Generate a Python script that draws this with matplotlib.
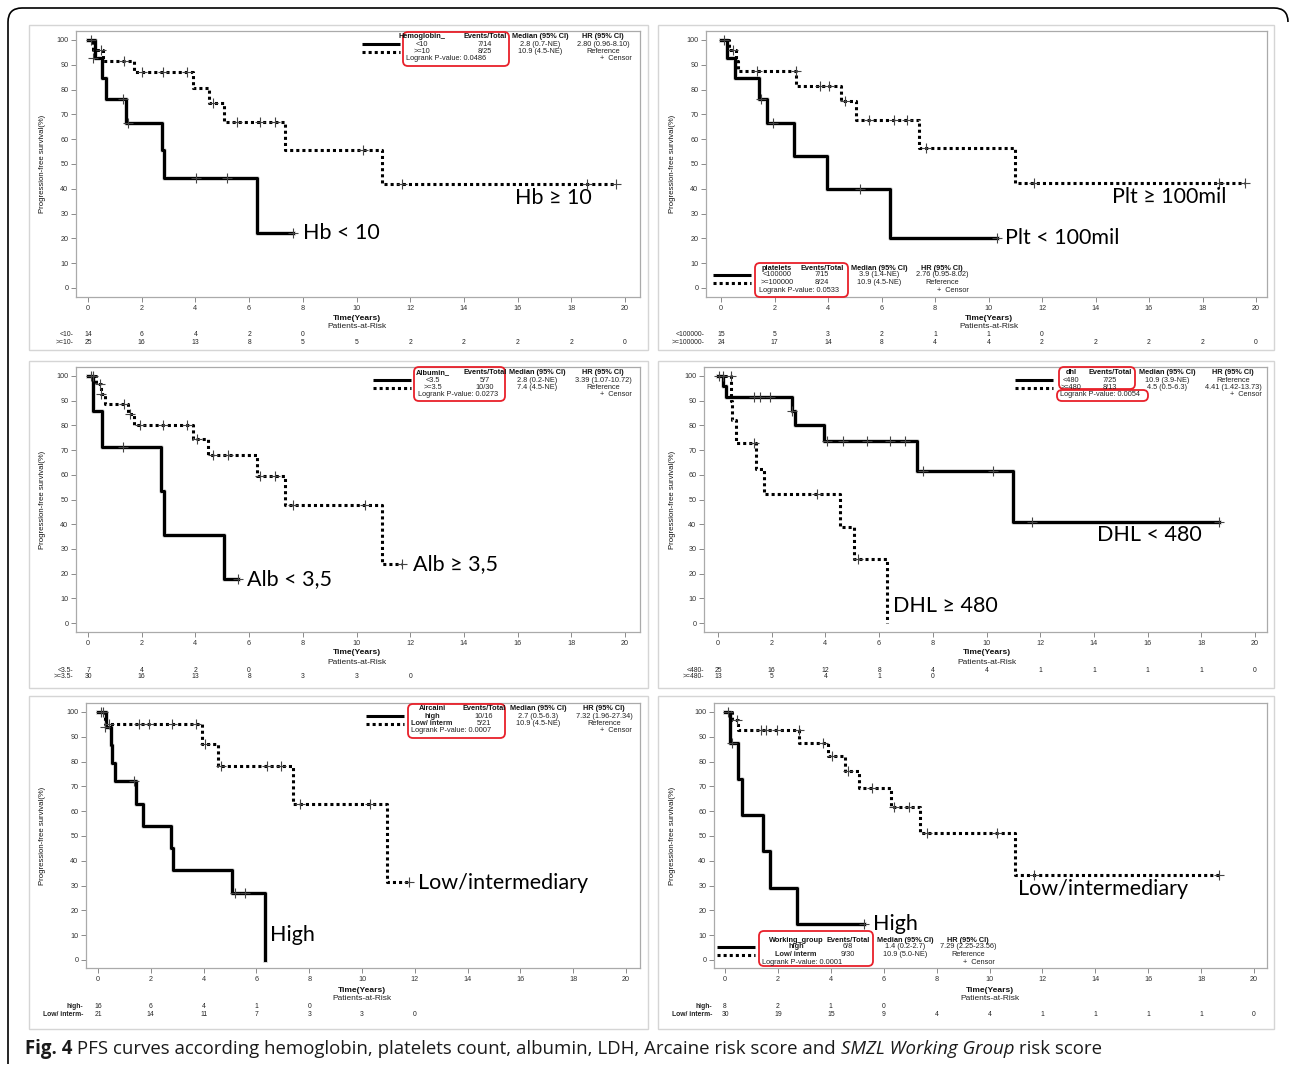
import matplotlib
matplotlib.use('Agg')
import matplotlib.pyplot as plt
from matplotlib.patches import FancyBboxPatch, Rectangle, PathPatch
from matplotlib.path import Path
from matplotlib.transforms import blended_transform_factory

# ---------------- DATA ----------------
years_at_risk = [0, 2, 4, 6, 8, 10, 12, 14, 16, 18, 20]

# Panel 1: hemoglobin
hb_lo_t = [0, 0.25, 0.52, 0.67, 1.42, 2.76, 2.84, 6.3, 7.64]
hb_lo_s = [100, 92.8, 84.6, 76.2, 66.5, 55.5, 44.4, 22.2, 22.2]
hb_lo_ct = [0.12, 1.31, 1.49, 4.04, 5.18, 7.64]
hb_lo_cs = [100, 76.2, 66.5, 44.4, 44.4, 22.2]
hb_hi_t = [0, 0.2, 0.55, 1.72, 3.9, 4.5, 5.05, 7.35, 10.95, 19.65]
hb_hi_s = [100, 96.0, 91.6, 87.0, 80.5, 74.6, 67.0, 55.8, 41.9, 41.9]
hb_hi_ct = [0.2, 0.5, 1.35, 2.0, 2.8, 3.7, 4.65, 5.55, 6.4, 6.95, 10.25, 11.7, 18.6, 19.65]
hb_hi_cs = [92.8, 96.0, 91.6, 87.0, 87.0, 87.0, 74.6, 67.0, 67.0, 67.0, 55.8, 41.9, 41.9, 41.9]
hb_risk_lo = [14, 6, 4, 2, 0]
hb_risk_hi = [25, 16, 13, 8, 5, 5, 2, 2, 2, 2, 0]

# Panel 2: platelets
plt_lo_t = [0, 0.23, 0.51, 1.43, 1.73, 2.74, 3.97, 6.32, 10.3]
plt_lo_s = [100, 92.8, 84.6, 76.2, 66.6, 53.2, 39.9, 20.0, 20.0]
plt_lo_ct = [0.1, 1.5, 1.95, 5.2, 10.3]
plt_lo_cs = [100, 76.2, 66.6, 39.9, 20.0]
plt_hi_t = [0, 0.3, 0.55, 0.65, 2.8, 4.5, 5.03, 7.4, 10.98, 19.6]
plt_hi_s = [100, 95.8, 91.7, 87.3, 81.4, 75.6, 67.7, 56.5, 42.2, 42.2]
plt_hi_ct = [0.45, 1.35, 2.8, 3.7, 4.05, 4.65, 5.55, 6.45, 6.95, 7.65, 11.7, 18.6, 19.6]
plt_hi_cs = [95.8, 87.3, 87.3, 81.4, 81.4, 75.6, 67.7, 67.7, 67.7, 56.5, 42.2, 42.2, 42.2]
plt_risk_lo = [15, 5, 3, 2, 1, 1, 0]
plt_risk_hi = [24, 17, 14, 8, 4, 4, 2, 2, 2, 2, 0]

# Panel 3: albumin
alb_lo_t = [0, 0.18, 0.52, 2.72, 2.84, 5.07, 5.6]
alb_lo_s = [100, 85.7, 71.4, 53.6, 35.7, 17.9, 17.9]
alb_lo_ct = [0.1, 1.3, 5.6]
alb_lo_cs = [100, 71.4, 17.9]
alb_hi_t = [0, 0.3, 0.5, 0.64, 1.5, 1.7, 3.9, 4.48, 6.3, 7.34, 10.94, 11.7]
alb_hi_s = [100, 96.6, 92.6, 88.5, 84.6, 80.0, 74.3, 68.0, 59.6, 47.6, 23.8, 23.8]
alb_hi_ct = [0.2, 0.45, 0.5, 1.35, 1.55, 1.95, 2.8, 3.7, 4.05, 4.65, 5.2, 6.4, 6.95, 7.65, 10.3, 11.7]
alb_hi_cs = [100, 96.6, 92.6, 88.5, 84.6, 80.0, 80.0, 80.0, 74.3, 68.0, 68.0, 59.6, 59.6, 47.6, 47.6, 23.8]
alb_risk_lo = [7, 4, 2, 0]
alb_risk_hi = [30, 16, 13, 8, 3, 3, 0]

# Panel 4: LDH (dhl)
ldh_lo_t = [0, 0.2, 0.31, 2.77, 2.85, 3.94, 7.43, 10.97, 18.65]
ldh_lo_s = [100, 96.0, 91.7, 86.0, 80.0, 73.7, 61.4, 40.9, 40.9]
ldh_lo_ct = [0.05, 0.2, 1.35, 1.55, 1.95, 2.75, 4.05, 4.65, 5.55, 6.4, 6.95, 7.65, 10.25, 11.7, 18.65]
ldh_lo_cs = [100, 100, 91.7, 91.7, 91.7, 86.0, 73.7, 73.7, 73.7, 73.7, 73.7, 61.4, 61.4, 40.9, 40.9]
ldh_hi_t = [0, 0.47, 0.52, 0.68, 1.4, 1.72, 4.55, 5.05, 6.3]
ldh_hi_s = [100, 90.0, 82.0, 73.0, 62.2, 52.1, 39.0, 26.1, 0]
ldh_hi_ct = [0.47, 1.35, 3.7, 5.2]
ldh_hi_cs = [100, 73.0, 52.1, 26.1]
ldh_risk_lo = [25, 16, 12, 8, 4, 4, 1, 1, 1, 1, 0]
ldh_risk_hi = [13, 5, 4, 1, 0]

# Panel 5: Aircaini
arc_hi_t = [0, 0.3, 0.49, 0.53, 0.66, 1.43, 1.71, 2.77, 2.85, 5.08, 6.33]
arc_hi_s = [100, 93.8, 86.7, 79.4, 72.2, 63.0, 54.1, 45.1, 36.1, 27.1, 0]
arc_hi_ct = [0.1, 0.2, 1.35, 5.2, 5.55]
arc_hi_cs = [100, 100, 72.2, 27.1, 27.1]
arc_lo_t = [0, 0.25, 3.95, 4.56, 7.39, 10.96, 11.77]
arc_lo_s = [100, 95.1, 87.0, 78.3, 62.8, 31.4, 31.4]
arc_lo_ct = [0.25, 0.4, 1.55, 1.95, 2.8, 3.7, 4.05, 4.65, 6.4, 6.95, 7.65, 10.3, 11.77]
arc_lo_cs = [93.8, 95.1, 95.1, 95.1, 95.1, 95.1, 87.0, 78.3, 78.3, 78.3, 62.8, 62.8, 31.4]
arc_risk_hi = [16, 6, 4, 1, 0]
arc_risk_lo = [21, 14, 11, 7, 3, 3, 0]

# Panel 6: SMZL working group
wg_hi_t = [0, 0.2, 0.5, 0.65, 1.42, 1.72, 2.74, 5.24]
wg_hi_s = [100, 87.5, 72.9, 58.3, 43.8, 29.2, 14.6, 14.6]
wg_hi_ct = [0.1, 0.25, 5.24]
wg_hi_cs = [100, 87.5, 14.6]
wg_lo_t = [0, 0.25, 0.5, 2.79, 3.91, 4.52, 5.07, 6.29, 7.39, 10.97, 18.66]
wg_lo_s = [100, 96.6, 92.7, 87.7, 82.3, 76.4, 69.5, 61.5, 51.3, 34.3, 34.3]
wg_lo_ct = [0.45, 1.35, 1.55, 1.95, 2.8, 3.7, 4.05, 4.65, 5.55, 6.4, 6.95, 7.65, 10.3, 11.7, 18.66]
wg_lo_cs = [96.6, 92.7, 92.7, 92.7, 92.7, 87.7, 82.3, 76.4, 69.5, 61.5, 61.5, 51.3, 51.3, 34.3, 34.3]
wg_risk_hi = [8, 2, 1, 0]
wg_risk_lo = [30, 19, 15, 9, 4, 4, 1, 1, 1, 1, 0]

# ---------------- FIGURE ----------------
W, H = 1292, 1067
fig = plt.figure(figsize=(W / 100, H / 100), dpi=100)
fig.patch.set_facecolor('white')
SANS = 'Liberation Sans'
BIG = 'Lato'

ov = fig.add_axes([0, 0, 1, 1], zorder=10)
ov.set_xlim(0, W)
ov.set_ylim(H, 0)
ov.axis('off')
ov.patch.set_alpha(0)


def make_axes(frame, x0, x20, y100, y0):
    l, t, r, b = frame
    ax = fig.add_axes([l / W, 1 - b / H, (r - l) / W, (b - t) / H])
    sx = (x20 - x0) / 20.0
    ax.set_xlim((l - x0) / sx, (r - x0) / sx)
    sy = (y0 - y100) / 100.0
    ax.set_ylim((y0 - b) / sy, (y0 - t) / sy)
    ax.set_xticks(range(0, 21, 2))
    ax.set_yticks(range(0, 101, 10))
    ax.tick_params(direction='out', length=3.5, width=0.6, color='#777777',
                   labelsize=5.2, labelcolor='#333333', pad=2)
    for lab in ax.get_xticklabels() + ax.get_yticklabels():
        lab.set_fontfamily(SANS)
    for sp in ax.spines.values():
        sp.set_color('#aaaaaa')
        sp.set_linewidth(0.9)
    return ax


def draw_curve(ax, t, s, ct, cs, dotted):
    if dotted:
        ax.step(t, s, where='post', color='black', lw=2.2, ls=(0, (1, 1)),
                solid_capstyle='butt', dash_capstyle='butt', zorder=3)
    else:
        ax.step(t, s, where='post', color='#aaaaaa', lw=3.4, alpha=0.5, zorder=2)
        ax.step(t, s, where='post', color='black', lw=2.2, zorder=3)
    ax.plot(ct, cs, ls='none', marker='+', ms=7, mew=0.8, color='#444444', zorder=4)


def panel(box, frame, x0, x20, y100, y0, ylab_x, texty, rows_y, row_lx,
          row_labels, risks, curves, row_bold=False):
    bx0, by0, bx1, by1 = box
    ov.add_patch(Rectangle((bx0, by0), bx1 - bx0, by1 - by0, fill=False,
                           ec='#d5d5d5', lw=1.0))
    ax = make_axes(frame, x0, x20, y100, y0)
    for c in curves:
        draw_curve(ax, *c)
    ov.text(ylab_x, (y100 + y0) / 2, 'Progression-free survival(%)', rotation=90,
            ha='center', va='center', fontsize=5.6, family=SANS, color='#111111')
    ov.text((x0 + x20) / 2, texty, 'Time(Years)', ha='center', va='center',
            fontsize=6, family=SANS, weight='bold', color='#111111')
    ov.text((x0 + x20) / 2, texty + 9, 'Patients-at-Risk', ha='center', va='center',
            fontsize=6, family=SANS, color='#222222')
    tr = blended_transform_factory(ax.transData, ov.transData)
    for ry, lab, vals in zip(rows_y, row_labels, risks):
        ov.text(row_lx, ry, lab, ha='right', va='center', fontsize=4.9, family=SANS,
                weight='bold' if row_bold else 'normal', color='#222222')
        for xv, v in zip(years_at_risk, vals):
            ax.text(xv, ry, str(v), transform=tr, ha='center', va='center',
                    fontsize=4.9, family=SANS, color='#222222', clip_on=False)
    return ax


def legend(sx, yh, cols, header, row1, row2, logrank, lx, crx, boxes, bold_rows=False):
    ov.plot([sx, sx + 38], [yh + 7, yh + 7], color='black', lw=2.2, solid_capstyle='butt')
    ov.plot([sx, sx + 38], [yh + 14.5, yh + 14.5], color='black', lw=2.2, ls=(0, (1, 1)),
            dash_capstyle='butt')
    for cx, txt in zip(cols, header):
        ov.text(cx, yh, txt, ha='center', va='center', fontsize=5.3, family=SANS,
                weight='bold', color='#111111')
    for i, (cx, txt) in enumerate(zip(cols, row1)):
        ov.text(cx, yh + 7, txt, ha='center', va='center', fontsize=5.3, family=SANS,
                weight='bold' if (bold_rows and i == 0) else 'normal', color='#222222')
    for i, (cx, txt) in enumerate(zip(cols, row2)):
        ov.text(cx, yh + 14.5, txt, ha='center', va='center', fontsize=5.3, family=SANS,
                weight='bold' if (bold_rows and i == 0) else 'normal', color='#222222')
    ov.text(lx, yh + 22, logrank, ha='left', va='center', fontsize=5.3, family=SANS,
            color='#222222')
    ov.text(crx, yh + 22, '+  Censor', ha='right', va='center', fontsize=5.3, family=SANS,
            color='#222222')
    for (a, b_, c, d) in boxes:
        ov.add_patch(FancyBboxPatch((a, b_), c - a, d - b_,
                                    boxstyle='round,pad=0,rounding_size=5',
                                    fill=False, ec='#e8202a', lw=1.3))


def big(x, y, txt):
    ov.text(x, y, txt, ha='left', va='center', fontsize=15.5, family=BIG, color='black')


# Panel 1
panel((29, 25, 648, 350), (76, 31, 640, 297), 88, 625, 40, 288, 42, 318, (335, 342), 73,
      ['<10-', '>=10-'], [hb_risk_lo, hb_risk_hi],
      [(hb_lo_t, hb_lo_s, hb_lo_ct, hb_lo_cs, False),
       (hb_hi_t, hb_hi_s, hb_hi_ct, hb_hi_cs, True)])
legend(362, 37, [422, 485, 540, 603],
       ['Hemoglobin_', 'Events/Total', 'Median (95% CI)', 'HR (95% CI)'],
       ['<10', '7/14', '2.8 (0.7-NE)', '2.80 (0.96-8.10)'],
       ['>=10', '8/25', '10.9 (4.5-NE)', 'Reference'],
       'Logrank P-value: 0.0486', 406, 632, [(403, 32, 509, 66)])
big(515, 198, 'Hb ≥ 10')
big(303, 233, 'Hb < 10')

# Panel 2
panel((658, 25, 1274, 350), (706, 31, 1267, 297), 721, 1256, 40, 288, 673, 318, (335, 342), 705,
      ['<100000-', '>=100000-'], [plt_risk_lo, plt_risk_hi],
      [(plt_lo_t, plt_lo_s, plt_lo_ct, plt_lo_cs, False),
       (plt_hi_t, plt_hi_s, plt_hi_ct, plt_hi_cs, True)])
legend(713, 268, [777, 822, 879, 942],
       ['platelets', 'Events/Total', 'Median (95% CI)', 'HR (95% CI)'],
       ['<100000', '7/15', '3.9 (1.4-NE)', '2.76 (0.95-8.02)'],
       ['>=100000', '8/24', '10.9 (4.5-NE)', 'Reference'],
       'Logrank P-value: 0.0533', 759, 969, [(755, 263, 848, 297)])
big(1112, 197, 'Plt ≥ 100mil')
big(1005, 238, 'Plt < 100mil')

# Panel 3
panel((29, 361, 648, 688), (76, 367, 640, 632), 88, 625, 376, 623, 42, 653, (670, 677), 73,
      ['<3.5-', '>=3.5-'], [alb_risk_lo, alb_risk_hi],
      [(alb_lo_t, alb_lo_s, alb_lo_ct, alb_lo_cs, False),
       (alb_hi_t, alb_hi_s, alb_hi_ct, alb_hi_cs, True)])
legend(373, 373, [433, 485, 537, 603],
       ['Albumin_', 'Events/Total', 'Median (95% CI)', 'HR (95% CI)'],
       ['<3.5', '5/7', '2.8 (0.2-NE)', '3.39 (1.07-10.72)'],
       ['>=3.5', '10/30', '7.4 (4.5-NE)', 'Reference'],
       'Logrank P-value: 0.0273', 418, 632, [(414, 367, 505, 401)])
big(413, 564, 'Alb ≥ 3,5')
big(247, 579, 'Alb < 3,5')

# Panel 4
panel((658, 361, 1274, 688), (704, 367, 1267, 632), 718, 1255, 376, 623, 673, 653, (670, 677), 704,
      ['<480-', '>=480-'], [ldh_risk_lo, ldh_risk_hi],
      [(ldh_lo_t, ldh_lo_s, ldh_lo_ct, ldh_lo_cs, False),
       (ldh_hi_t, ldh_hi_s, ldh_hi_ct, ldh_hi_cs, True)])
legend(1015, 373, [1071, 1110, 1167, 1233],
       ['dhl', 'Events/Total', 'Median (95% CI)', 'HR (95% CI)'],
       ['<480', '7/25', '10.9 (3.9-NE)', 'Reference'],
       ['>=480', '8/13', '4.5 (0.5-6.3)', '4.41 (1.42-13.73)'],
       'Logrank P-value: 0.0054', 1060, 1262,
       [(1059, 367, 1135, 389), (1057, 390, 1148, 401)])
big(1097, 535, 'DHL < 480')
big(893, 606, 'DHL ≥ 480')

# Panel 5
panel((29, 696, 648, 1029), (86, 703, 640, 968), 98, 626, 712, 960, 43, 990, (1007, 1015), 83,
      ['high-', 'Low/ interm-'], [arc_risk_hi, arc_risk_lo],
      [(arc_hi_t, arc_hi_s, arc_hi_ct, arc_hi_cs, False),
       (arc_lo_t, arc_lo_s, arc_lo_ct, arc_lo_cs, True)], row_bold=True)
legend(366, 709, [432, 484, 538, 604],
       ['Aircaini', 'Events/Total', 'Median (95% CI)', 'HR (95% CI)'],
       ['high', '10/16', '2.7 (0.5-6.3)', '7.32 (1.96-27.34)'],
       ['Low/ interm', '5/21', '10.9 (4.5-NE)', 'Reference'],
       'Logrank P-value: 0.0007', 411, 632, [(408, 704, 505, 738)], bold_rows=True)
big(418, 883, 'Low/intermediary')
big(270, 935, 'High')

# Panel 6
panel((658, 696, 1274, 1029), (714, 703, 1267, 968), 725, 1254, 712, 960, 673, 990, (1007, 1015), 712,
      ['high-', 'Low/ interm-'], [wg_risk_hi, wg_risk_lo],
      [(wg_hi_t, wg_hi_s, wg_hi_ct, wg_hi_cs, False),
       (wg_lo_t, wg_lo_s, wg_lo_ct, wg_lo_cs, True)], row_bold=True)
legend(717, 940, [796, 848, 905, 968],
       ['Working_group', 'Events/Total', 'Median (95% CI)', 'HR (95% CI)'],
       ['high', '6/8', '1.4 (0.2-2.7)', '7.29 (2.25-23.56)'],
       ['Low/ interm', '9/30', '10.9 (5.0-NE)', 'Reference'],
       'Logrank P-value: 0.0001', 762, 995, [(759, 931, 873, 966)], bold_rows=True)
big(1018, 889, 'Low/intermediary')
big(873, 924, 'High')

# Outer black frame (top + left with rounded corners)
verts = [(8, 1064), (8, 22), (8, 8), (22, 8), (1274, 8), (1288, 8), (1288, 22)]
codes = [Path.MOVETO, Path.LINETO, Path.CURVE3, Path.CURVE3, Path.LINETO,
         Path.CURVE3, Path.CURVE3]
ov.add_patch(PathPatch(Path(verts, codes), fill=False, ec='black', lw=1.2))

# Caption
renderer = fig.canvas.get_renderer()
pieces = [('Fig. 4', 'bold', 'normal'),
          (' PFS curves according hemoglobin, platelets count, albumin, LDH, Arcaine risk score and ',
           'normal', 'normal'),
          ('SMZL Working Group', 'normal', 'italic'),
          (' risk score', 'normal', 'normal')]
xc = 25
for txt, wt, st in pieces:
    tt = ov.text(xc, 1049, txt, ha='left', va='center', fontsize=13.4, family='Open Sans',
                 weight=wt, style=st, color='#1a1a1a')
    bb = tt.get_window_extent(renderer)
    xc += bb.width

fig.savefig('out.png', dpi=100, facecolor='white')
